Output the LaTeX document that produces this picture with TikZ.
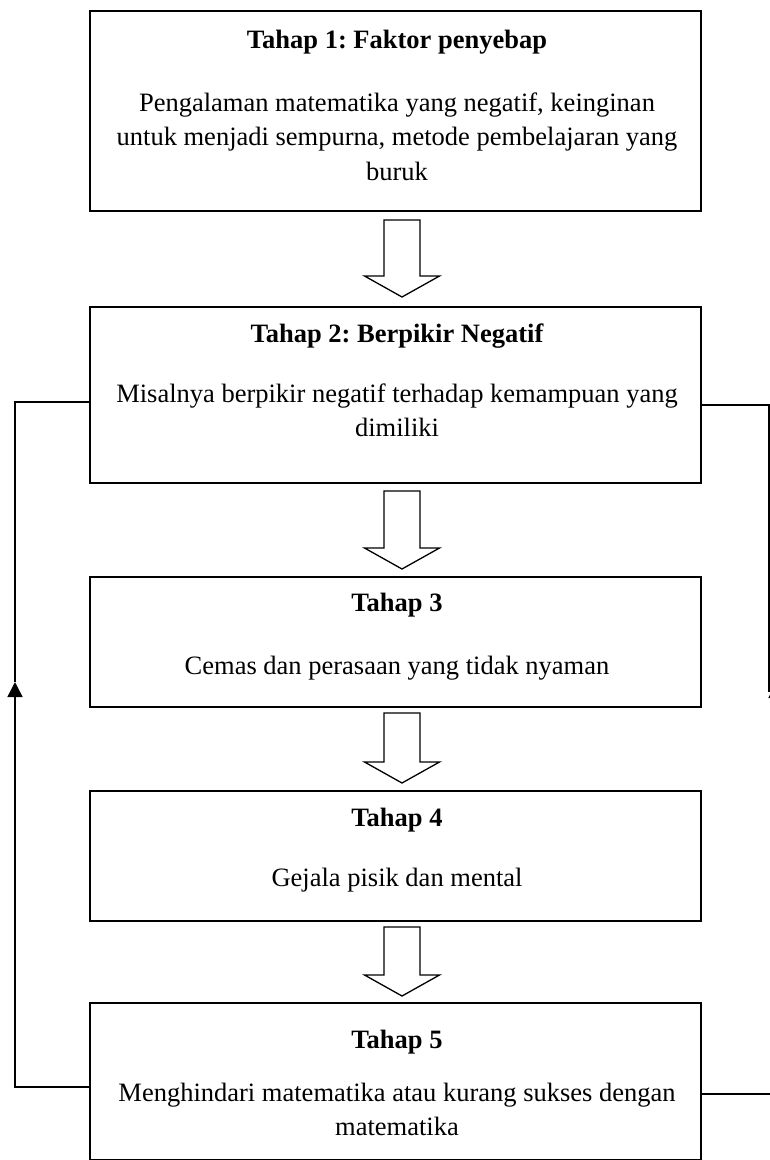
\documentclass[tikz,border=0pt]{standalone}
\usepackage{fontspec}
\setmainfont{Liberation Serif}
\frenchspacing
\usetikzlibrary{arrows.meta,calc}
\tikzset{
  box/.style={draw, line width=1.6pt, anchor=north west, inner sep=0pt},
  ttl/.style={anchor=base, font=\fontsize{26.5}{34.5}\selectfont\bfseries, inner sep=0pt},
  body/.style={anchor=base, align=center, font=\fontsize{26.5}{34.5}\selectfont, inner sep=0pt},
  conn/.style={line width=1.5pt},
  barrowst/.style={line width=1.3pt, line join=miter, fill=white},
  tip/.style={-{Triangle[length=15pt,width=15pt]}}
}
\newcommand\myblockarrow[3]{%
  \draw[barrowst] (384,#1) -- (420,#1) -- (420,#2) -- (439.5,#2) -- (402,#3) -- (364.5,#2) -- (384,#2) -- cycle;}
\begin{document}
\begin{tikzpicture}[x=1pt,y=-1pt]
\useasboundingbox (0,0) rectangle (770,1160);
% boxes
\node[box, minimum width=611pt, minimum height=200pt] (b1) at (89,10) {};
\node[box, minimum width=611pt, minimum height=176pt] (b2) at (89,306) {};
\node[box, minimum width=611pt, minimum height=130pt] (b3) at (89,576) {};
\node[box, minimum width=611pt, minimum height=130pt] (b4) at (89,790) {};
\node[box, minimum width=611pt, minimum height=157pt] (b5) at (89,1002) {};
% texts
\node[ttl] (t1) at (397,48) {Tahap 1: Faktor penyebap};
\node[body] (p1a) at (397,111) {Pengalaman matematika yang negatif, keinginan};
\node[body] (p1b) at (397,145.5) {untuk menjadi sempurna, metode pembelajaran yang};
\node[body] (p1c) at (397,180) {buruk};
\node[ttl] (t2) at (397,342) {Tahap 2: Berpikir Negatif};
\node[body] (p2a) at (397,402) {Misalnya berpikir negatif terhadap kemampuan yang};
\node[body] (p2b) at (397,436.5) {dimiliki};
\node[ttl] (t3) at (397,611) {Tahap 3};
\node[body] (p3a) at (397,674) {Cemas dan perasaan yang tidak nyaman};
\node[ttl] (t4) at (397,826) {Tahap 4};
\node[body] (p4a) at (397,886) {Gejala pisik dan mental};
\node[ttl] (t5) at (397,1048) {Tahap 5};
\node[body] (p5a) at (397,1101) {Menghindari matematika atau kurang sukses dengan};
\node[body] (p5b) at (397,1135.5) {matematika};
% block arrows
\myblockarrow{220}{276}{297}
\myblockarrow{491}{548}{569}
\myblockarrow{713}{762}{783}
\myblockarrow{927}{975}{996}
% left feedback
\coordinate (L5) at (15,1087);
\coordinate (LM) at (15,682);
\coordinate (L2) at (15,402);
\draw[conn, tip] (b5.west |- L5) -- (L5) -- (LM);
\draw[conn] (LM) -- (L2) -- (b2.west |- L2);
% right feedback
\coordinate (R5) at (772,1094);
\coordinate (RA) at (776,698);
\coordinate (RB) at (776,683);
\coordinate (RL) at (769,692);
\coordinate (R2) at (769,405);
\draw[conn] (b5.east |- R5) -- (R5);
\draw[conn, tip] (RA) -- (RB);
\draw[conn] (RL) -- (R2) -- (b2.east |- R2);
\end{tikzpicture}
\end{document}
